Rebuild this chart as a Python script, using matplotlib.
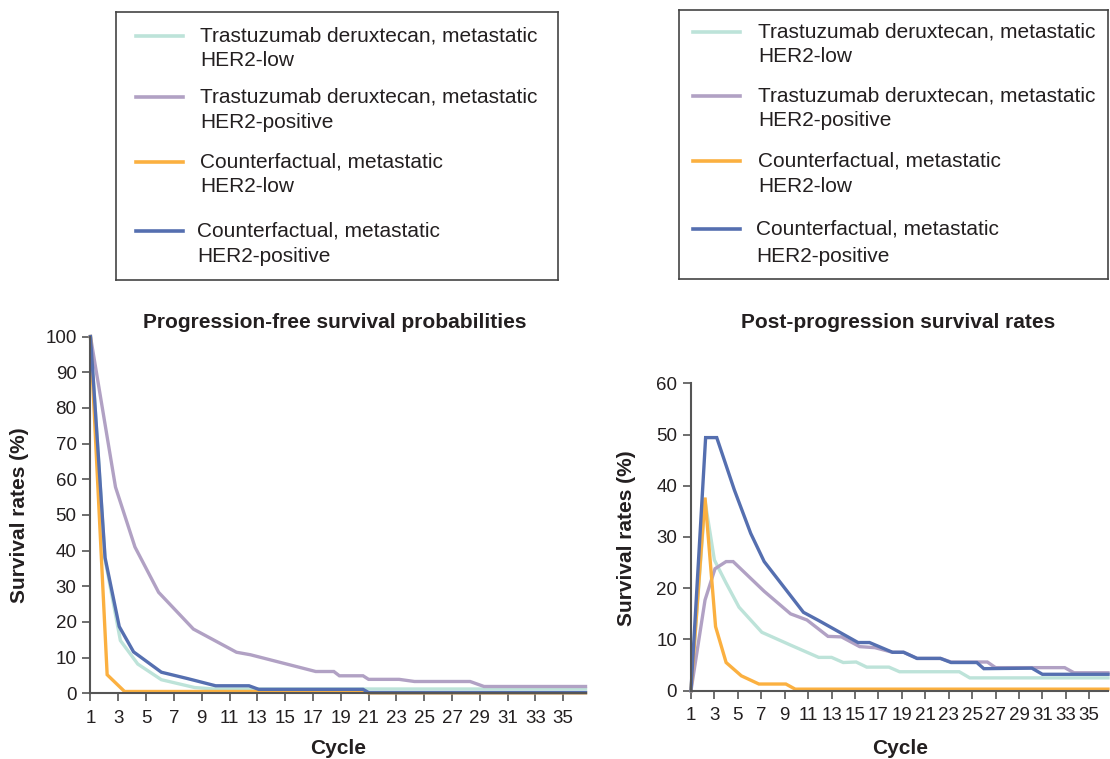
import matplotlib
matplotlib.use("Agg")
import matplotlib.pyplot as plt
from matplotlib.lines import Line2D

plt.rcParams['font.family'] = ['Liberation Sans', 'DejaVu Sans']

# series labels and colours
labels = ["Trastuzumab deruxtecan, metastatic\nHER2-low",
          "Trastuzumab deruxtecan, metastatic\nHER2-positive",
          "Counterfactual, metastatic\nHER2-low",
          "Counterfactual, metastatic\nHER2-positive"]
colors = ["#bde3d9", "#b1a1c4", "#fbb040", "#556fb0"]

# progression-free survival (%)
pfs_low_x = [1, 2.05, 3.15, 4.4, 6.1, 8.5, 9.9, 36.6]
pfs_low_y = [100, 37.5, 14.8, 8.2, 3.8, 1.6, 1.2, 1.2]
pfs_pos_x = [1, 2.8, 4.2, 5.9, 8.4, 11.5, 12.5, 14.0, 17.2, 18.5, 18.9, 20.6, 21.0, 23.2, 24.3, 28.3, 29.3, 36.6]
pfs_pos_y = [100, 57.8, 41, 28.3, 18, 11.5, 10.8, 9.3, 6.1, 6.1, 4.9, 4.9, 3.9, 3.9, 3.3, 3.3, 1.9, 1.9]
pfs_cf_low_x = [1, 2.2, 3.45, 20.6, 21.0, 36.6]
pfs_cf_low_y = [100, 5.2, 0.5, 0.5, 0.1, 0.1]
pfs_cf_pos_x = [1, 2.05, 3.07, 4.1, 6.1, 8.0, 10.0, 12.4, 13.1, 20.6, 21.0, 36.6]
pfs_cf_pos_y = [100, 38, 18.7, 11.6, 5.9, 4.1, 2.1, 2.1, 1.1, 1.1, 0.2, 0.2]

# post-progression survival (%)
pps_low_x = [1, 2.2, 3.0, 4.0, 5.1, 7.05, 9.6, 11.9, 13.0, 14.0, 15.1, 16.0, 17.9, 18.8, 23.9, 24.8, 36.6]
pps_low_y = [0, 37, 25.5, 21, 16.3, 11.4, 8.8, 6.5, 6.5, 5.5, 5.6, 4.6, 4.6, 3.7, 3.7, 2.5, 2.5]
pps_pos_x = [1, 2.2, 3.05, 4.0, 4.6, 7.25, 9.5, 10.9, 12.7, 13.85, 15.4, 16.7, 18.2, 19.15, 20.3, 22.3, 23.2, 26.3, 27.0, 32.9, 33.7, 36.6]
pps_pos_y = [0, 17.7, 23.8, 25.2, 25.2, 19.4, 15.0, 13.8, 10.6, 10.5, 8.6, 8.4, 7.5, 7.5, 6.3, 6.3, 5.6, 5.6, 4.5, 4.5, 3.5, 3.5]
pps_cf_low_x = [1, 2.2, 3.1, 4.0, 5.3, 6.8, 9.1, 9.9, 36.6]
pps_cf_low_y = [0, 37.7, 12.5, 5.5, 2.9, 1.3, 1.3, 0.3, 0.3]
pps_cf_pos_x = [1, 2.25, 3.2, 4.7, 6.1, 7.25, 10.6, 11.9, 15.26, 16.24, 18.2, 19.15, 20.3, 22.3, 23.2, 25.4, 26.0, 30.1, 31.0, 36.6]
pps_cf_pos_y = [0, 49.4, 49.4, 39.2, 30.7, 25.2, 15.3, 13.7, 9.4, 9.4, 7.5, 7.5, 6.3, 6.3, 5.5, 5.5, 4.3, 4.4, 3.2, 3.2]

cycle_ticks = list(range(1, 36, 2))
txt = "#231f20"
spine = "#555555"

fig = plt.figure(figsize=(11.1, 7.59), dpi=100)

def style(ax, ymax, ystep):
    ax.set_xlim(1, 36.6)
    ax.set_ylim(0, ymax)
    ax.set_xticks(cycle_ticks)
    ax.set_yticks(range(0, ymax + 1, ystep))
    for s in ["top", "right"]:
        ax.spines[s].set_visible(False)
    for s in ["left", "bottom"]:
        ax.spines[s].set_color(spine)
        ax.spines[s].set_linewidth(1.5)
    ax.tick_params(length=6, width=1.2, color=spine, labelsize=13.5, labelcolor=txt, pad=4)
    ax.tick_params(axis="x", pad=6)
    ax.margins(0)

ax1 = fig.add_axes([0.0815, 0.0866, 0.446, 0.470])
series1 = [(pfs_low_x, pfs_low_y), (pfs_pos_x, pfs_pos_y), (pfs_cf_low_x, pfs_cf_low_y), (pfs_cf_pos_x, pfs_cf_pos_y)]
for (xs, ys), c in zip(series1, colors):
    ax1.plot(xs, ys, color=c, lw=2.4, solid_joinstyle="miter", clip_on=False)
style(ax1, 100, 10)

ax2 = fig.add_axes([0.6225, 0.090, 0.3757, 0.405])
series2 = [(pps_low_x, pps_low_y), (pps_pos_x, pps_pos_y), (pps_cf_low_x, pps_cf_low_y), (pps_cf_pos_x, pps_cf_pos_y)]
for (xs, ys), c in zip(series2, colors):
    ax2.plot(xs, ys, color=c, lw=2.4, solid_joinstyle="miter", clip_on=False)
style(ax2, 60, 10)

# titles and axis labels
fig.text(335 / 1110, 1 - 323 / 759, "Progression-free survival probabilities", ha="center", va="center",
         fontsize=15, fontweight="bold", color=txt)
fig.text(898 / 1110, 1 - 323 / 759, "Post-progression survival rates", ha="center", va="center",
         fontsize=15, fontweight="bold", color=txt)
fig.text(338 / 1110, 1 - 749 / 759, "Cycle", ha="center", va="center", fontsize=15, fontweight="bold", color=txt)
fig.text(900 / 1110, 1 - 749 / 759, "Cycle", ha="center", va="center", fontsize=15, fontweight="bold", color=txt)
fig.text(20 / 1110, 1 - 515 / 759, "Survival rates (%)", ha="center", va="center", rotation=90,
         fontsize=15, fontweight="bold", color=txt)
fig.text(627 / 1110, 1 - 538 / 759, "Survival rates (%)", ha="center", va="center", rotation=90,
         fontsize=15, fontweight="bold", color=txt)

# legends drawn in their own framed boxes (handle aligned with first text line)
def legend_box(rect, line_x0, line_x1, text_x, rows):
    lx = fig.add_axes(rect)
    lx.set_xlim(rect[0] * 1110, (rect[0] + rect[2]) * 1110)
    lx.set_ylim((1 - rect[1] - rect[3]) * 759, (1 - rect[1]) * 759)
    lx.invert_yaxis()
    lx.set_xticks([])
    lx.set_yticks([])
    for s in lx.spines.values():
        s.set_color("#444444")
        s.set_linewidth(1.2)
    for (y1, y2, dx), lab, c in zip(rows, labels, colors):
        lx.add_line(Line2D([line_x0, line_x1], [y1, y1], color=c, lw=2.6))
        first, second = lab.split("\n")
        lx.text(text_x + dx, y1, first, ha="left", va="center", fontsize=15, color=txt)
        lx.text(text_x + dx, y2, second, ha="left", va="center", fontsize=15, color=txt)

legend_box([116 / 1110, 1 - 280 / 759, 442 / 1110, 268 / 759], 136, 183, 200,
           [(36, 61, 0), (97, 122, 0), (162, 187, 0), (231, 257, -3)])
legend_box([679 / 1110, 1 - 279 / 759, 429 / 1110, 269 / 759], 693, 740, 758,
           [(32, 57, 0), (96, 121, 0), (161, 187, 0), (229, 256, -2)])

fig.savefig("out.png", dpi=100)
